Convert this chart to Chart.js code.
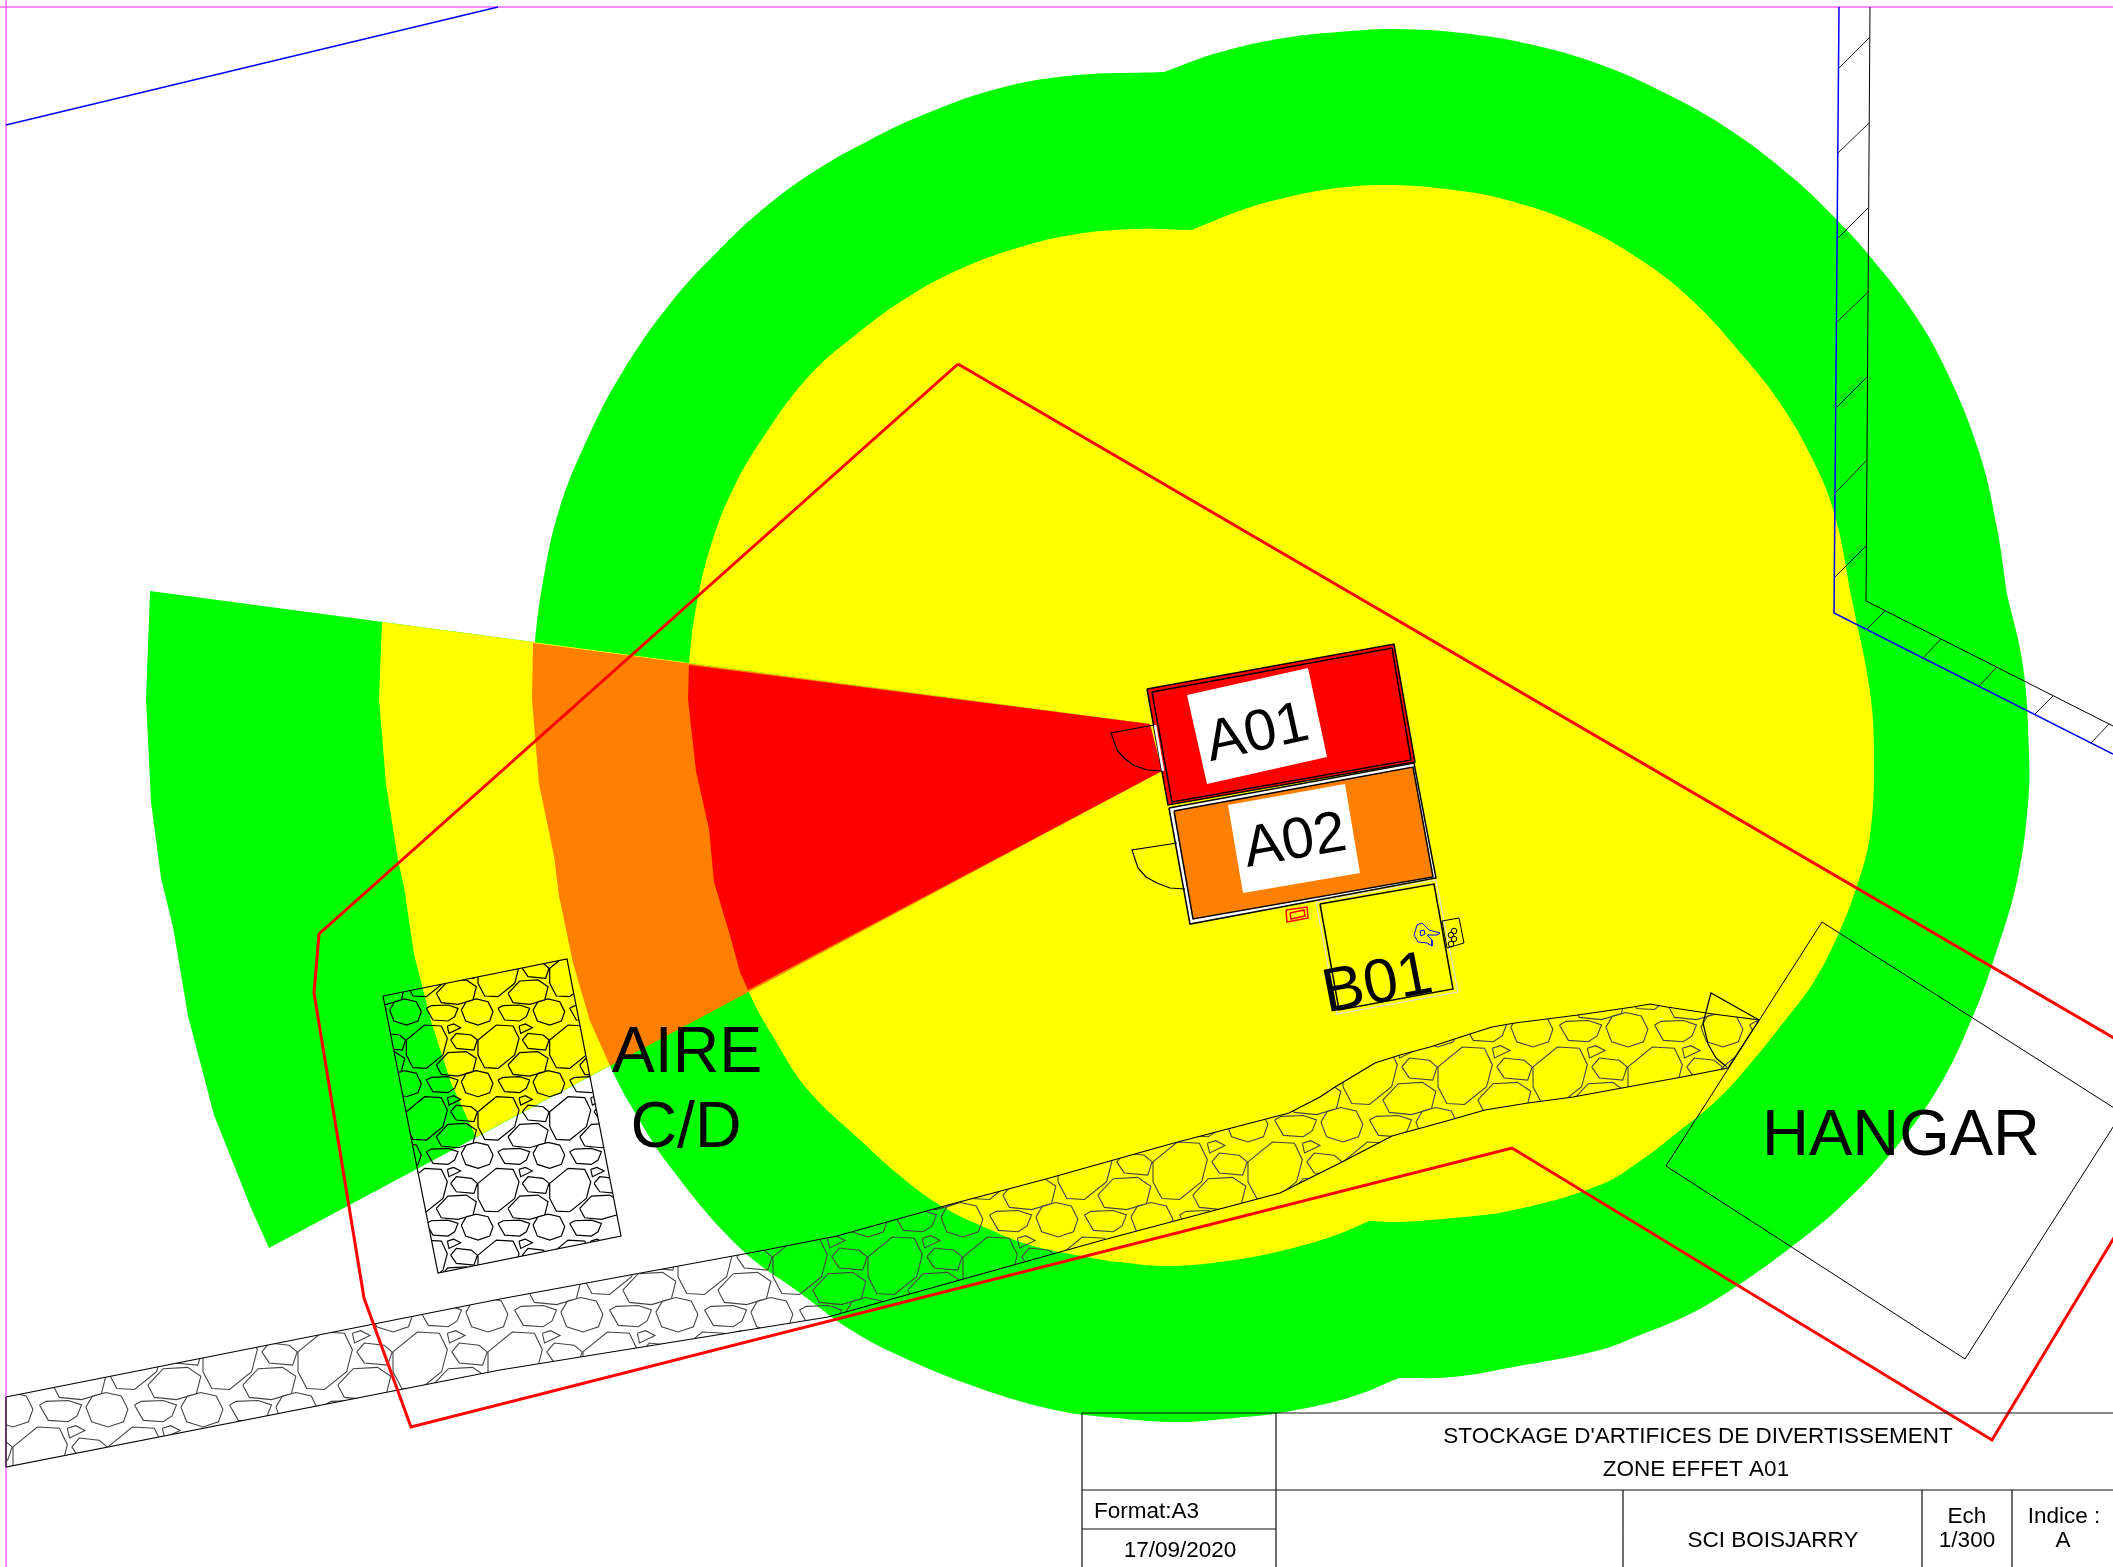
<!DOCTYPE html>
<html>
<head>
<meta charset="utf-8">
<title>Zone effet A01</title>
<script src="https://cdn.jsdelivr.net/npm/chart.js@4"></script>
<style>
  html, body { margin: 0; padding: 0; background: #fff; overflow: hidden; }
  canvas { display: block; }
</style>
</head>
<body>
<canvas id="chart" width="2113" height="1567"></canvas>
<script>
// all points, in the units of the page (x right, y down)
// a point given twice in the zones keeps a sharp corner when the curve is smoothed
const greenZone = [[1164,72],[1217,53],[1284,38],[1351,31],[1396,29],[1462,33],[1529,44],[1596,63],[1663,92],[1730,130],[1793,178],[1837,220],[1868,254],[1913,312],[1947,372],[1980,455],[1997,528],[2007,594],[2007,594],[2023,666],[2029,753],[2028,804],[2017,881],[1993,962],[1973,1016],[1940,1085],[1893,1151],[1840,1207],[1790,1248],[1737,1286],[1690,1314],[1640,1335],[1600,1350],[1514,1367],[1453,1377],[1399,1378],[1399,1378],[1351,1397],[1285,1412],[1234,1418],[1178,1422],[1116,1418],[1055,1410],[979,1388],[902,1357],[851,1330],[800,1293],[740,1248],[671,1168],[631,1106],[610,1066],[590,1021],[573,963],[559,896],[554,856],[539,784],[532,699],[535,641],[545,570],[560,507],[585,444],[620,376],[669,305],[719,250],[769,204],[818,169],[868,141],[918,117],[993,90],[1067,76],[1164,72]];
const yellowZone = [[1192,230],[1239,211],[1284,198],[1337,188],[1391,185],[1454,190],[1507,200],[1574,223],[1641,260],[1695,303],[1744,357],[1780,403],[1813,460],[1835,516],[1852,600],[1870,692],[1874,763],[1870,835],[1857,886],[1837,937],[1813,983],[1783,1023],[1750,1064],[1717,1100],[1673,1136],[1640,1161],[1600,1185],[1514,1210],[1453,1218],[1397,1222],[1369,1221],[1369,1221],[1336,1235],[1285,1250],[1234,1260],[1172,1266],[1127,1263],[1086,1257],[1030,1245],[984,1227],[943,1207],[905,1180],[860,1140],[808,1090],[775,1040],[748,990],[729,932],[714,882],[709,829],[696,771],[688,699],[689,663],[697,602],[712,542],[734,487],[764,436],[809,376],[858,333],[908,297],[958,270],[1017,248],[1077,234],[1137,229],[1192,230]];
const wedgeGreen = [[150,591],[1150,724],[1162,771],[269,1248],[251,1208],[214,1115],[188,1016],[173,927],[161,878],[151,802],[146,699],[150,591]];
const wedgeYellow = [[382,622],[1150,724],[1162,771],[476,1137],[451,1083],[431,1021],[414,954],[404,887],[398,860],[386,784],[379,699],[382,622]];
const wedgeOrange = [[533,643],[1150,724],[1162,771],[610,1066],[590,1021],[573,963],[559,896],[554,856],[539,784],[532,699],[533,643]];
const wedgeRed = [[689,665],[1150,724],[1162,771],[748,990],[740,972],[729,932],[714,882],[709,829],[696,771],[688,699],[689,665]];

const propertyLine = [[958,364],[2203,1090],[1992,1440],[1512,1148],[411,1427],[364,1298],[314,993],[319,934],[958,364]];
const hangarOutline = [[1822,922],[2122,1113],[1965,1359],[1666,1166],[1822,922]];
const pageFrame = [[0,7],[2113,7],[NaN,NaN],[6,0],[6,1567]];
const blueLines = [[6,125],[498,7],[NaN,NaN],[1839,7],[1834,613],[2113,754]];
const wallLine = [[1870,7],[1866,601],[2113,726]];
const wallTicks = [[1839,68],[1870,37],[NaN,NaN],[1838,153],[1869,123],[NaN,NaN],[1838,238],[1869,207],[NaN,NaN],[1837,322],[1868,292],[NaN,NaN],[1837,407],[1867,377],[NaN,NaN],[1836,492],[1867,460],[NaN,NaN],[1835,577],[1866,546],[NaN,NaN],[1867,629],[1885,611],[NaN,NaN],[1923,658],[1941,639],[NaN,NaN],[1979,686],[1997,667],[NaN,NaN],[2035,714],[2053,696],[NaN,NaN],[2091,743],[2109,724]];

const a01Outer = [[1147,689],[1394,644],[1415,762],[1168,805],[1147,689]];
const a01Inner = [[1152,692],[1392,648],[1411,760],[1172,802],[1152,692]];
const a01Label = [[1187,695],[1308,668],[1327,757],[1207,784],[1187,695]];
const a01DoorGap = [[1155,725],[1163,771]];
const a01Door = [[1154,725],[1111,733],[1117,750],[1124,758],[1133,765],[1147,770],[1162,771]];
const a02Outer = [[1169,808],[1414,763],[1436,878],[1190,924],[1169,808]];
const a02Inner = [[1174,811],[1413,767],[1433,877],[1193,919],[1174,811]];
const a02Label = [[1228,805],[1345,784],[1360,873],[1243,893],[1228,805]];
const a02Door = [[1177,843],[1132,850],[1138,868],[1146,877],[1157,883],[1170,888],[1185,889]];
const b01Outer = [[1316,902],[1436,880],[1458,992],[1337,1014],[1316,902]];
const b01Inner = [[1320,904],[1434,884],[1453,989],[1339,1010],[1320,904]];
const extBox = [[1442,921],[1459,918],[1464,943],[1447,948],[1442,921]];
const extDots = [[1454,931],[1451,935],[1454,939],[1451,944]];
const person = [[1414,935],[1417,925],[1422,923],[1429,930],[1440,933],[1437,935],[1427,935],[1432,940],[1432,946],[1427,943],[1418,942],[1414,935],[NaN,NaN],[1420,931],[1424,930],[1425,934],[1421,936],[1420,931]];
const redBox = [[1286,910],[1307,907],[1308,918],[1287,922],[1286,910],[NaN,NaN],[1290,913],[1304,910],[1305,916],[1291,919],[1290,913]];
const hangarDoor = [[1759,1020],[1711,993],[1703,1023],[1708,1044],[1716,1058],[1727,1067]];

const stonePad = [[383,996],[567,959],[621,1236],[438,1273],[383,996]];
const stoneBelt = [[6,1397],[500,1299],[760,1251],[837,1236],[948,1205],[1046,1179],[1174,1143],[1289,1113],[1320,1097],[1335,1087],[1375,1063],[1400,1055],[1430,1047],[1470,1034],[1492,1027],[1515,1023],[1578,1015],[1633,1007],[1650,1004],[1667,1007],[1713,1014],[1759,1020],[1728,1068],[1682,1077],[1622,1088],[1573,1097],[1528,1103],[1485,1110],[1443,1122],[1392,1136],[1342,1162],[1320,1173],[1280,1193],[1103,1240],[967,1278],[828,1317],[760,1328],[500,1370],[6,1467],[6,1397]];

// one repeat of the cobble hatch, in a cell 215 wide
const cobbleCell = [
  [[0,45],[55,0],[105,3],[123,40],[110,90],[60,130],[20,128],[0,90],[0,45]],
  [[90,120],[125,83],[180,80],[210,100],[200,140],[155,153],[105,148],[90,120]],
  [[-50,170],[-35,145],[-5,137],[30,145],[45,175],[35,203],[0,215],[-37,203],[-50,170]],
  [[60,165],[75,157],[125,155],[155,165],[145,190],[125,203],[80,200],[60,165]],
  [[123,3],[142,-3],[163,8],[128,25],[123,3]],
  [[133,45],[150,25],[195,30],[213,45],[203,75],[150,70],[133,45]]
];

const titleLines = [[1082,1567],[1082,1413],[2113,1413],[NaN,NaN],[1276,1413],[1276,1567],[NaN,NaN],[1082,1490],[2113,1490],[NaN,NaN],[1082,1529],[1276,1529],[NaN,NaN],[1623,1490],[1623,1567],[NaN,NaN],[1922,1490],[1922,1567],[NaN,NaN],[2012,1490],[2012,1567]];

// text, x, y (baseline), size, rotation in degrees, align
const labels = [
  ['A01', 1261, 750, 58, -12.5],
  ['A02', 1298, 858, 58, -10],
  ['B01', 1381, 1002, 62, -11],
  ['AIRE', 687, 1072, 64.5, 0],
  ['C/D', 686, 1147, 64.5, 0],
  ['HANGAR', 1901, 1155, 65, 0],
  ["STOCKAGE D'ARTIFICES DE DIVERTISSEMENT", 1698, 1443, 22.5, 0],
  ['ZONE EFFET A01', 1696, 1476, 22.5, 0],
  ['Format:A3', 1094, 1518, 22.5, 0, 'left'],
  ['17/09/2020', 1180, 1557, 22.5, 0],
  ['SCI BOISJARRY', 1773, 1547, 22.5, 0],
  ['Ech', 1967, 1523, 22.5, 0],
  ['1/300', 1967, 1547, 22.5, 0],
  ['Indice :', 2064, 1523, 22.5, 0],
  ['A', 2063, 1547, 22.5, 0]
];

const pts = list => list.map(p => ({ x: p[0], y: p[1] }));

// stamps the cell over the bounding box, the clip below keeps what is inside the outline
function cobbles(outline, ox, oy, period) {
  const xs = outline.map(p => p[0]), ys = outline.map(p => p[1]);
  const out = [];
  for (let i = Math.floor((Math.min(...xs) - ox) / period) - 1; i * period + ox < Math.max(...xs); i++) {
    for (let j = Math.floor((Math.min(...ys) - oy) / period) - 1; j * period + oy < Math.max(...ys); j++) {
      cobbleCell.forEach(stone => {
        stone.forEach(p => out.push([ox + (i + p[0] / 215) * period, oy + (j + p[1] / 215) * period]));
        out.push([NaN, NaN]);
      });
    }
  }
  return out;
}

const area = (data, color, tension) => ({
  data: pts(data), showLine: true, fill: 'shape', backgroundColor: color,
  borderWidth: 0, pointRadius: 0, tension: tension || 0
});
const line = (data, color, width, extra) => Object.assign({
  data: pts(data), showLine: true, fill: false, borderColor: color,
  borderWidth: width, pointRadius: 0, tension: 0
}, extra);

// listed bottom layer first
const layers = [
  area(greenZone, '#00ff00', 0.4),
  area(yellowZone, '#ffff00', 0.4),
  area(wedgeGreen, '#00ff00'),
  area(wedgeYellow, '#ffff00'),
  area(wedgeOrange, '#ff8000'),
  area(wedgeRed, '#ff0000'),
  line(pageFrame, '#ff66ff', 1.5),
  line(blueLines, '#0000ff', 1.5),
  line(wallLine, '#000000', 1),
  line(wallTicks, '#222222', 1),
  line(cobbles(stoneBelt, 298, 1332, 95), '#444444', 1.1, { clipTo: stoneBelt }),
  line(stoneBelt, '#000000', 1.2),
  line(cobbles(stonePad, 478, 1025, 71.7), '#000000', 1.2, { clipTo: stonePad }),
  line(stonePad, '#000000', 1.2),
  line(hangarOutline, '#000000', 1),
  line(hangarDoor, '#000000', 1.2),
  area(a01Outer, '#ff0000'),
  line(a01Outer, '#000000', 1.5),
  line(a01Inner, '#000000', 1.5),
  area(a01Label, '#ffffff'),
  line(a01DoorGap, '#ffffff', 2.5),
  line(a01Door, '#000000', 1.2),
  area(a02Outer, '#ffffff'),
  line(a02Outer, '#000000', 1.5),
  area(a02Inner, '#ff8000'),
  line(a02Inner, '#000000', 1.5),
  area(a02Label, '#ffffff'),
  line(a02Door, '#000000', 1.2),
  line(b01Outer, '#dddddd', 1.2),
  line(b01Inner, '#000000', 1.5),
  line(extBox, '#000000', 1),
  { data: pts(extDots), pointRadius: 2.8, pointBorderColor: '#000', pointBackgroundColor: 'transparent', pointBorderWidth: 1 },
  line(person, '#0000ff', 1),
  line(redBox, '#ff0000', 1.5),
  line(propertyLine, '#ff0000', 3),
  line(titleLines, '#111111', 1.2)
];
// Chart.js paints the first dataset last
layers.reverse();

const clipPlugin = {
  id: 'clipTo',
  beforeDatasetDraw(chart, args) {
    const poly = chart.data.datasets[args.index].clipTo;
    if (!poly) return;
    const { ctx, scales } = chart;
    ctx.save();
    ctx.beginPath();
    poly.forEach((p, i) => {
      const x = scales.x.getPixelForValue(p[0]), y = scales.y.getPixelForValue(p[1]);
      i ? ctx.lineTo(x, y) : ctx.moveTo(x, y);
    });
    ctx.closePath();
    ctx.clip();
  },
  afterDatasetDraw(chart, args) {
    if (chart.data.datasets[args.index].clipTo) chart.ctx.restore();
  }
};

const labelPlugin = {
  id: 'drawingLabels',
  afterDatasetsDraw(chart) {
    const { ctx, scales } = chart;
    labels.forEach(([text, x, y, size, rot, align]) => {
      ctx.save();
      ctx.translate(scales.x.getPixelForValue(x), scales.y.getPixelForValue(y));
      ctx.rotate(rot * Math.PI / 180);
      ctx.font = size + 'px "Liberation Sans"';
      ctx.fillStyle = '#000';
      ctx.textAlign = align || 'center';
      ctx.textBaseline = 'alphabetic';
      ctx.fillText(text, 0, 0);
      ctx.restore();
    });
  }
};

new Chart(document.getElementById('chart').getContext('2d'), {
  type: 'scatter',
  data: { datasets: layers },
  plugins: [clipPlugin, labelPlugin],
  options: {
    responsive: false,
    animation: false,
    events: [],
    layout: { padding: 0, autoPadding: false },
    plugins: { legend: { display: false }, tooltip: { enabled: false } },
    scales: {
      x: { type: 'linear', min: 0, max: 2113, display: false },
      y: { type: 'linear', min: 0, max: 1567, reverse: true, display: false }
    }
  }
});
</script>
</body>
</html>
